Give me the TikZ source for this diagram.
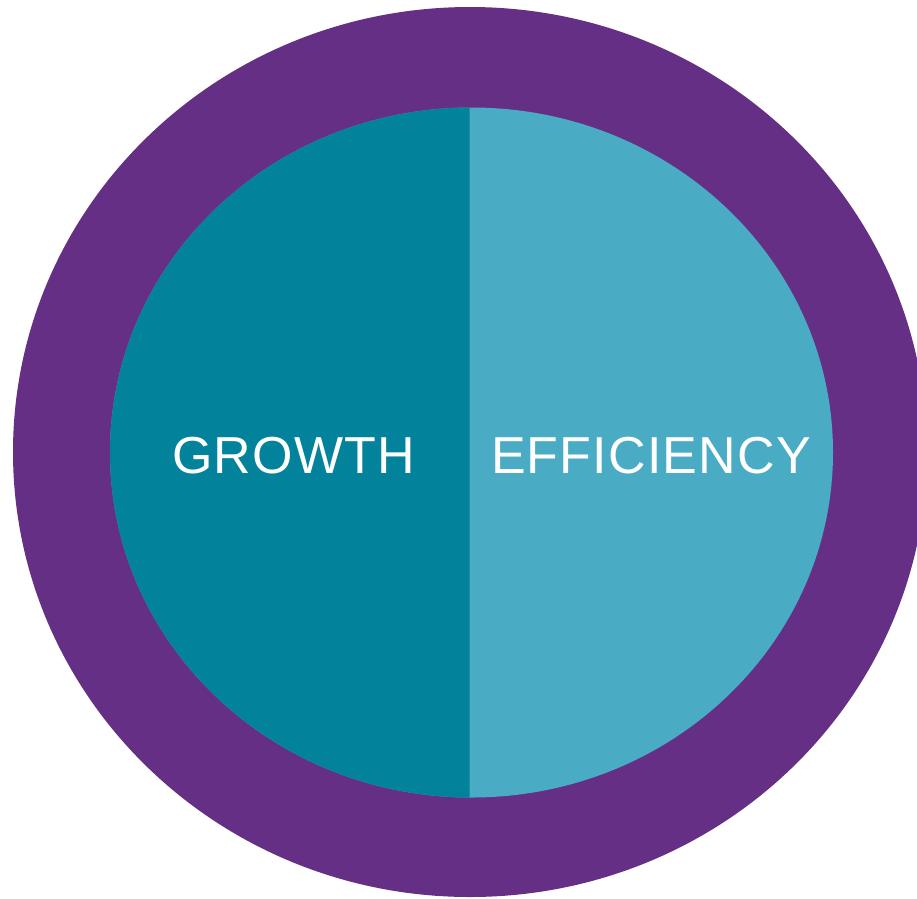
\documentclass[tikz,border=0pt]{standalone}
\usepackage{fontspec}
\setmainfont{Liberation Sans}
\usetikzlibrary{positioning}
\definecolor{RingPurple}{RGB}{101,47,133}
\definecolor{GrowthTeal}{RGB}{3,131,155}
\definecolor{EffTeal}{RGB}{74,171,197}

\begin{document}
\begin{tikzpicture}[x=1pt, y=-1pt,
    every node/.style={font=\fontsize{52}{60}\selectfont\addfontfeatures{LetterSpace=2.3}},
    label/.style={text=white, anchor=base, inner sep=0pt}]
\useasboundingbox (0,0) rectangle (917,898);
\clip (0,0) rectangle (917,898);
% outer ring
\fill[RingPurple] (470,452) ellipse [x radius=457, y radius=445];
% inner halves
\fill[EffTeal] (471.5,452.5) ellipse [x radius=361.5, y radius=345];
\begin{scope}
  \clip (0,0) rectangle (469.5,898);
  \fill[GrowthTeal] (471.5,452.5) ellipse [x radius=361.5, y radius=345];
\end{scope}
\node[label] (growth) at (293.5,473) {GROWTH};
\node[label] (efficiency) at (651,473) {EFFICIENCY};
\end{tikzpicture}
\end{document}
